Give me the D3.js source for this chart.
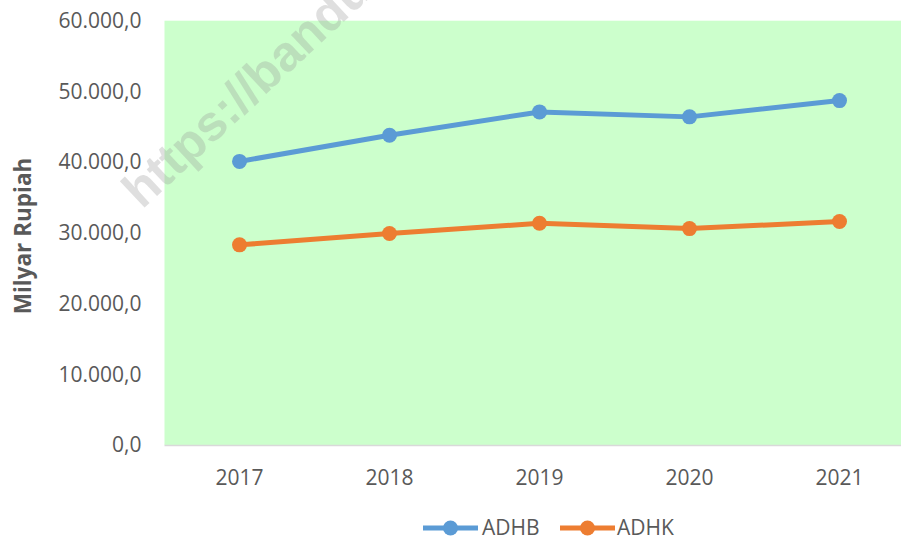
<!DOCTYPE html>
<html>
<head>
<meta charset="utf-8">
<script src="https://cdn.jsdelivr.net/npm/d3@7"></script>
<style>
  html, body { margin: 0; padding: 0; background: #ffffff; }
  svg { display: block; }
</style>
</head>
<body>
<svg id="chart" width="901" height="540"></svg>
<script>
const categories = ["2017", "2018", "2019", "2020", "2021"];
const seriesNames = ["ADHB", "ADHK"];
const adhb = [40100, 43800, 47100, 46400, 48700];
const adhk = [28300, 29900, 31350, 30600, 31600];
const yTicks = [0, 10000, 20000, 30000, 40000, 50000, 60000];
const seriesColors = ["#5B9BD5", "#ED7D31"];
const yTitle = "Milyar Rupiah";
const watermark = "https://bandungkab.bps.go.id";

const svg = d3.select("#chart");
const font = "'Open Sans', 'Noto Sans', sans-serif";
const plot = { left: 164.5, right: 914.5, top: 20.7, bottom: 445 };

const x = d3.scaleBand().domain(categories).range([plot.left, plot.right]);
const y = d3.scaleLinear().domain([0, 60000]).range([plot.bottom, plot.top]);

// plot background
svg.append("rect")
  .attr("x", plot.left).attr("y", plot.top)
  .attr("width", plot.right - plot.left).attr("height", plot.bottom - plot.top)
  .attr("fill", "#CCFFCC");

// watermark
svg.append("text")
  .attr("transform", "translate(142,210) rotate(-43)")
  .attr("font-family", "'Liberation Sans', Arial, sans-serif")
  .attr("font-weight", "bold")
  .attr("font-size", 50)
  .attr("fill", "rgba(150,150,150,0.3)")
  .text(watermark);

// y axis labels
const fmt = v => {
  const s = d3.format(",.1f")(v);
  return s.replace(/,/g, "#").replace(".", ",").replace(/#/g, ".");
};
const yAxis = d3.axisLeft(y).tickValues(yTicks).tickSize(0).tickPadding(0).tickFormat(fmt);
const gy = svg.append("g").attr("transform", "translate(141.5,0)").call(yAxis);
gy.select(".domain").remove();
gy.selectAll("text")
  .attr("font-family", font).attr("font-size", 21).attr("fill", "#595959");

// x axis
const xAxis = d3.axisBottom(x).tickSize(0).tickPadding(0);
const gx = svg.append("g").attr("transform", `translate(0,${plot.bottom})`).call(xAxis);
gx.select(".domain").attr("stroke", "#D9D9D9").attr("stroke-width", 1.5)
  .attr("d", `M${plot.left},0.5H${plot.right}`);
gx.selectAll("text")
  .attr("y", 25)
  .attr("font-family", font).attr("font-size", 21).attr("fill", "#595959");

// axis title
svg.append("text")
  .attr("transform", "translate(31,236) rotate(-90)")
  .attr("text-anchor", "middle")
  .attr("font-family", font).attr("font-weight", "bold")
  .attr("font-size", 22.5).attr("fill", "#595959")
  .text(yTitle);

// series
const data = [adhb, adhk];
const line = d3.line().x((d, i) => x(categories[i]) + x.bandwidth() / 2).y(d => y(d));
data.forEach((vals, k) => {
  svg.append("path").datum(vals)
    .attr("d", line).attr("fill", "none")
    .attr("stroke", seriesColors[k]).attr("stroke-width", 5)
    .attr("stroke-linejoin", "round").attr("stroke-linecap", "round");
  svg.selectAll(null).data(vals).enter().append("circle")
    .attr("cx", (d, i) => x(categories[i]) + x.bandwidth() / 2)
    .attr("cy", d => y(d))
    .attr("r", 7.5)
    .attr("fill", seriesColors[k]);
});

// legend
const legendItems = [{ lx: 423, tx: 482 }, { lx: 560, tx: 617 }];
legendItems.forEach((it, k) => {
  const g = svg.append("g");
  g.append("line")
    .attr("x1", it.lx).attr("x2", it.lx + 55)
    .attr("y1", 528).attr("y2", 528)
    .attr("stroke", seriesColors[k]).attr("stroke-width", 5);
  g.append("circle").attr("cx", it.lx + 27.5).attr("cy", 528).attr("r", 7.5)
    .attr("fill", seriesColors[k]);
  g.append("text").attr("x", it.tx).attr("y", 528).attr("dy", "0.35em")
    .attr("font-family", font).attr("font-size", 21).attr("fill", "#595959")
    .text(seriesNames[k]);
});
</script>
</body>
</html>
